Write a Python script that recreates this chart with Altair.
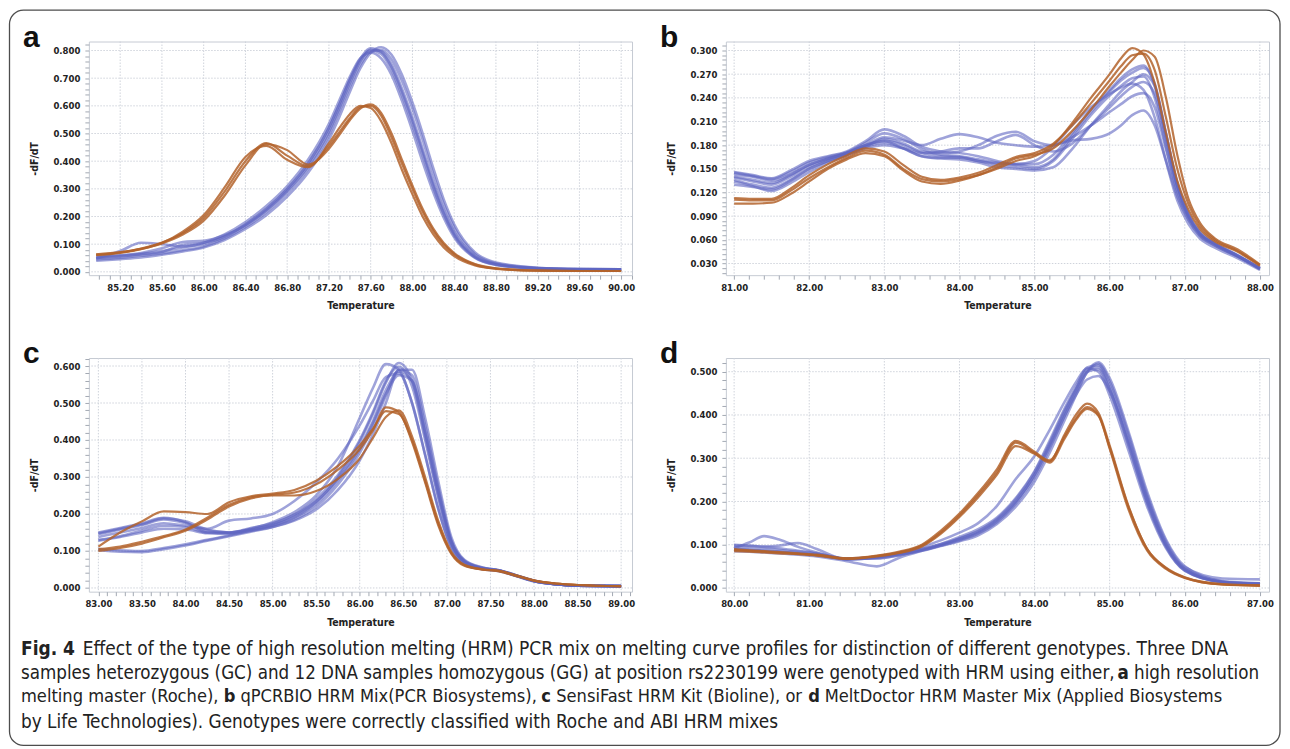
import json
import altair as alt
import pandas as pd

# ---------------- data ----------------
# Panel a : Roche high resolution melting master
A_T = [84.97, 85.2, 85.4, 85.6, 85.8, 86.0, 86.2, 86.4, 86.6, 86.8, 87.0, 87.2, 87.3, 87.4, 87.5,
       87.6, 87.7, 87.8, 87.9, 88.0, 88.1, 88.2, 88.3, 88.4, 88.6, 88.8, 89.2, 89.6, 90.0]
A_GC = [
    [0.062, 0.070, 0.084, 0.106, 0.140, 0.195, 0.290, 0.400, 0.465, 0.420, 0.382, 0.455, 0.505, 0.555, 0.595,
     0.600, 0.565, 0.485, 0.390, 0.300, 0.215, 0.148, 0.098, 0.064, 0.026, 0.012, 0.004, 0.003, 0.003],
    [0.060, 0.068, 0.082, 0.104, 0.145, 0.205, 0.305, 0.415, 0.455, 0.405, 0.378, 0.465, 0.520, 0.570, 0.600,
     0.592, 0.545, 0.465, 0.368, 0.280, 0.198, 0.135, 0.088, 0.057, 0.023, 0.011, 0.004, 0.003, 0.003],
    [0.063, 0.071, 0.083, 0.103, 0.135, 0.185, 0.275, 0.385, 0.462, 0.440, 0.388, 0.445, 0.495, 0.548, 0.590,
     0.605, 0.575, 0.500, 0.405, 0.312, 0.226, 0.156, 0.104, 0.068, 0.028, 0.013, 0.005, 0.003, 0.003],
]
A_GG = [
    [0.048, 0.075, 0.105, 0.100, 0.092, 0.100, 0.128, 0.172, 0.228, 0.300, 0.392, 0.520, 0.605, 0.695, 0.770,
     0.808, 0.795, 0.740, 0.650, 0.545, 0.430, 0.315, 0.215, 0.138, 0.054, 0.027, 0.012, 0.009, 0.009],
    [0.055, 0.060, 0.068, 0.085, 0.108, 0.112, 0.132, 0.168, 0.222, 0.292, 0.380, 0.505, 0.590, 0.680, 0.760,
     0.803, 0.797, 0.750, 0.662, 0.558, 0.442, 0.325, 0.224, 0.144, 0.057, 0.028, 0.013, 0.010, 0.009],
    [0.045, 0.050, 0.058, 0.066, 0.078, 0.092, 0.120, 0.162, 0.215, 0.285, 0.372, 0.495, 0.580, 0.668, 0.748,
     0.795, 0.802, 0.768, 0.690, 0.590, 0.475, 0.352, 0.245, 0.160, 0.064, 0.031, 0.014, 0.010, 0.009],
    [0.052, 0.058, 0.065, 0.075, 0.088, 0.105, 0.135, 0.180, 0.238, 0.310, 0.405, 0.535, 0.620, 0.705, 0.772,
     0.792, 0.772, 0.712, 0.618, 0.510, 0.395, 0.288, 0.196, 0.125, 0.050, 0.025, 0.012, 0.009, 0.009],
    [0.040, 0.046, 0.052, 0.062, 0.074, 0.088, 0.115, 0.155, 0.205, 0.272, 0.358, 0.478, 0.560, 0.650, 0.735,
     0.792, 0.812, 0.785, 0.712, 0.612, 0.498, 0.375, 0.262, 0.172, 0.070, 0.034, 0.015, 0.010, 0.009],
    [0.050, 0.056, 0.063, 0.072, 0.098, 0.105, 0.126, 0.170, 0.226, 0.298, 0.390, 0.520, 0.605, 0.692, 0.765,
     0.800, 0.788, 0.730, 0.638, 0.532, 0.418, 0.305, 0.208, 0.132, 0.052, 0.026, 0.012, 0.009, 0.009],
]

# Panel b : qPCRBIO HRM Mix
B_T = [81.0, 81.25, 81.5, 81.75, 82.0, 82.25, 82.5, 82.75, 83.0, 83.25, 83.5, 83.75, 84.0, 84.25, 84.5, 84.75,
       85.0, 85.25, 85.5, 85.75, 86.0, 86.15, 86.3, 86.45, 86.6, 86.75, 86.9, 87.05, 87.2, 87.4, 87.7, 88.0]
B_GC = [
    [0.111, 0.110, 0.110, 0.122, 0.138, 0.152, 0.164, 0.173, 0.168, 0.150, 0.137, 0.134, 0.137, 0.142, 0.150, 0.160,
     0.166, 0.180, 0.208, 0.240, 0.270, 0.290, 0.303, 0.295, 0.258, 0.195, 0.135, 0.098, 0.074, 0.058, 0.045, 0.027],
    [0.113, 0.112, 0.112, 0.125, 0.142, 0.156, 0.167, 0.176, 0.172, 0.155, 0.140, 0.136, 0.139, 0.145, 0.155, 0.165,
     0.170, 0.182, 0.205, 0.233, 0.262, 0.280, 0.294, 0.296, 0.275, 0.215, 0.150, 0.105, 0.078, 0.060, 0.046, 0.028],
    [0.106, 0.106, 0.107, 0.118, 0.134, 0.150, 0.162, 0.170, 0.166, 0.148, 0.134, 0.131, 0.135, 0.142, 0.152, 0.163,
     0.168, 0.176, 0.198, 0.225, 0.255, 0.272, 0.288, 0.300, 0.292, 0.240, 0.168, 0.112, 0.082, 0.062, 0.048, 0.029],
]
B_GG = [
    [0.146, 0.142, 0.138, 0.148, 0.160, 0.166, 0.172, 0.185, 0.200, 0.192, 0.178, 0.172, 0.170, 0.166, 0.160, 0.156,
     0.156, 0.168, 0.195, 0.225, 0.250, 0.265, 0.276, 0.281, 0.255, 0.190, 0.128, 0.090, 0.068, 0.055, 0.040, 0.024],
    [0.140, 0.136, 0.132, 0.142, 0.155, 0.163, 0.170, 0.180, 0.190, 0.186, 0.180, 0.188, 0.194, 0.190, 0.183, 0.180,
     0.178, 0.180, 0.186, 0.188, 0.195, 0.205, 0.218, 0.224, 0.205, 0.160, 0.115, 0.085, 0.066, 0.053, 0.039, 0.023],
    [0.136, 0.130, 0.126, 0.136, 0.150, 0.160, 0.168, 0.178, 0.188, 0.182, 0.172, 0.170, 0.172, 0.180, 0.192, 0.197,
     0.185, 0.180, 0.190, 0.205, 0.222, 0.232, 0.242, 0.246, 0.228, 0.175, 0.122, 0.088, 0.067, 0.054, 0.040, 0.024],
    [0.143, 0.140, 0.135, 0.143, 0.155, 0.163, 0.170, 0.180, 0.186, 0.180, 0.170, 0.166, 0.165, 0.160, 0.155, 0.152,
     0.150, 0.160, 0.188, 0.218, 0.243, 0.255, 0.265, 0.267, 0.240, 0.178, 0.120, 0.086, 0.065, 0.053, 0.039, 0.023],
    [0.130, 0.127, 0.124, 0.135, 0.150, 0.160, 0.168, 0.178, 0.183, 0.176, 0.166, 0.163, 0.162, 0.158, 0.152, 0.150,
     0.148, 0.152, 0.175, 0.205, 0.232, 0.248, 0.260, 0.270, 0.255, 0.195, 0.132, 0.093, 0.070, 0.056, 0.041, 0.024],
    [0.145, 0.141, 0.137, 0.146, 0.158, 0.165, 0.171, 0.183, 0.195, 0.188, 0.175, 0.168, 0.166, 0.162, 0.158, 0.155,
     0.152, 0.162, 0.192, 0.222, 0.248, 0.262, 0.272, 0.278, 0.258, 0.195, 0.132, 0.092, 0.069, 0.055, 0.040, 0.024],
    [0.139, 0.134, 0.130, 0.140, 0.153, 0.162, 0.170, 0.180, 0.185, 0.176, 0.166, 0.164, 0.164, 0.160, 0.157, 0.156,
     0.160, 0.178, 0.205, 0.228, 0.245, 0.253, 0.258, 0.250, 0.215, 0.160, 0.110, 0.080, 0.062, 0.050, 0.037, 0.022],
    [0.134, 0.128, 0.122, 0.132, 0.146, 0.158, 0.167, 0.176, 0.180, 0.176, 0.170, 0.172, 0.176, 0.176, 0.185, 0.193,
     0.180, 0.172, 0.182, 0.205, 0.228, 0.242, 0.254, 0.260, 0.245, 0.188, 0.128, 0.090, 0.068, 0.055, 0.040, 0.024],
]

# Panel c : SensiFast HRM Kit
C_T = [83.0, 83.25, 83.5, 83.75, 84.0, 84.25, 84.5, 84.75, 85.0, 85.25, 85.5, 85.75, 86.0, 86.15,
       86.3, 86.45, 86.6, 86.75, 86.9, 87.05, 87.2, 87.4, 87.6, 87.8, 88.0, 88.25, 88.5, 89.0]
C_GC = [
    [0.112, 0.150, 0.180, 0.207, 0.205, 0.200, 0.232, 0.248, 0.255, 0.265, 0.290, 0.330, 0.385, 0.430,
     0.478, 0.470, 0.400, 0.290, 0.175, 0.095, 0.062, 0.050, 0.046, 0.033, 0.020, 0.012, 0.008, 0.005],
    [0.105, 0.112, 0.125, 0.140, 0.158, 0.190, 0.225, 0.245, 0.252, 0.258, 0.280, 0.320, 0.375, 0.425,
     0.488, 0.475, 0.395, 0.285, 0.170, 0.093, 0.060, 0.050, 0.045, 0.032, 0.020, 0.012, 0.008, 0.005],
    [0.100, 0.108, 0.120, 0.137, 0.155, 0.185, 0.220, 0.242, 0.250, 0.250, 0.262, 0.295, 0.350, 0.405,
     0.462, 0.480, 0.410, 0.300, 0.182, 0.098, 0.063, 0.051, 0.046, 0.034, 0.021, 0.012, 0.008, 0.005],
]
C_GG = [
    [0.150, 0.162, 0.175, 0.190, 0.178, 0.150, 0.148, 0.160, 0.178, 0.205, 0.250, 0.330, 0.460, 0.540,
     0.605, 0.590, 0.500, 0.360, 0.215, 0.110, 0.066, 0.051, 0.046, 0.032, 0.018, 0.010, 0.006, 0.005],
    [0.145, 0.158, 0.170, 0.185, 0.175, 0.155, 0.150, 0.158, 0.172, 0.198, 0.240, 0.305, 0.400, 0.475,
     0.560, 0.598, 0.545, 0.400, 0.245, 0.120, 0.070, 0.053, 0.047, 0.033, 0.019, 0.010, 0.006, 0.005],
    [0.130, 0.140, 0.155, 0.168, 0.165, 0.150, 0.150, 0.162, 0.175, 0.198, 0.235, 0.295, 0.380, 0.450,
     0.535, 0.585, 0.560, 0.420, 0.260, 0.125, 0.072, 0.054, 0.047, 0.033, 0.019, 0.010, 0.006, 0.005],
    [0.102, 0.098, 0.097, 0.105, 0.115, 0.128, 0.140, 0.152, 0.165, 0.185, 0.220, 0.280, 0.365, 0.435,
     0.520, 0.590, 0.575, 0.440, 0.275, 0.130, 0.074, 0.055, 0.048, 0.034, 0.019, 0.010, 0.006, 0.005],
    [0.105, 0.102, 0.100, 0.108, 0.118, 0.130, 0.142, 0.155, 0.168, 0.190, 0.228, 0.290, 0.375, 0.445,
     0.525, 0.575, 0.560, 0.425, 0.265, 0.128, 0.073, 0.054, 0.047, 0.033, 0.019, 0.010, 0.006, 0.005],
    [0.138, 0.150, 0.162, 0.175, 0.168, 0.160, 0.182, 0.188, 0.200, 0.235, 0.285, 0.350, 0.440, 0.505,
     0.570, 0.580, 0.500, 0.360, 0.215, 0.110, 0.066, 0.051, 0.045, 0.032, 0.018, 0.010, 0.006, 0.005],
    [0.128, 0.138, 0.150, 0.160, 0.158, 0.148, 0.146, 0.155, 0.165, 0.182, 0.212, 0.265, 0.345, 0.415,
     0.500, 0.590, 0.590, 0.460, 0.290, 0.138, 0.076, 0.056, 0.048, 0.034, 0.020, 0.010, 0.006, 0.005],
    [0.148, 0.160, 0.172, 0.188, 0.180, 0.158, 0.150, 0.158, 0.170, 0.192, 0.232, 0.300, 0.395, 0.470,
     0.555, 0.608, 0.560, 0.410, 0.250, 0.122, 0.070, 0.053, 0.047, 0.033, 0.019, 0.010, 0.006, 0.005],
]

# Panel d : MeltDoctor HRM Master Mix
D_T = [80.0, 80.2, 80.4, 80.6, 80.85, 81.1, 81.5, 81.9, 82.2, 82.5, 82.75, 83.0, 83.25, 83.5,
       83.75, 84.0, 84.2, 84.4, 84.55, 84.7, 84.85, 85.0, 85.25, 85.5, 85.75, 86.0, 86.5, 87.0]
D_GC = [
    [0.088, 0.086, 0.084, 0.082, 0.079, 0.076, 0.068, 0.074, 0.082, 0.098, 0.128, 0.168, 0.215, 0.268,
     0.336, 0.312, 0.293, 0.355, 0.400, 0.426, 0.405, 0.330, 0.190, 0.090, 0.046, 0.024, 0.008, 0.005],
    [0.090, 0.087, 0.085, 0.083, 0.080, 0.077, 0.069, 0.075, 0.084, 0.100, 0.132, 0.172, 0.220, 0.275,
     0.340, 0.315, 0.295, 0.350, 0.392, 0.418, 0.400, 0.322, 0.182, 0.086, 0.044, 0.023, 0.008, 0.006],
    [0.085, 0.084, 0.082, 0.080, 0.078, 0.075, 0.067, 0.073, 0.081, 0.096, 0.125, 0.164, 0.210, 0.262,
     0.328, 0.310, 0.290, 0.345, 0.388, 0.414, 0.398, 0.325, 0.188, 0.090, 0.047, 0.025, 0.009, 0.006],
]
D_GG = [
    [0.092, 0.105, 0.120, 0.112, 0.095, 0.082, 0.068, 0.072, 0.078, 0.088, 0.100, 0.115, 0.132, 0.160,
     0.205, 0.268, 0.335, 0.410, 0.460, 0.505, 0.510, 0.462, 0.335, 0.200, 0.098, 0.042, 0.014, 0.010],
    [0.098, 0.097, 0.096, 0.098, 0.104, 0.090, 0.066, 0.070, 0.078, 0.090, 0.102, 0.118, 0.136, 0.163,
     0.208, 0.270, 0.340, 0.415, 0.465, 0.510, 0.515, 0.470, 0.345, 0.208, 0.102, 0.044, 0.015, 0.010],
    [0.085, 0.084, 0.082, 0.080, 0.077, 0.073, 0.062, 0.050, 0.070, 0.086, 0.098, 0.112, 0.128, 0.155,
     0.198, 0.262, 0.330, 0.405, 0.458, 0.500, 0.505, 0.458, 0.330, 0.195, 0.095, 0.040, 0.013, 0.008],
    [0.090, 0.088, 0.086, 0.084, 0.080, 0.076, 0.066, 0.072, 0.082, 0.095, 0.110, 0.128, 0.150, 0.190,
     0.252, 0.305, 0.365, 0.430, 0.475, 0.508, 0.500, 0.445, 0.318, 0.188, 0.092, 0.040, 0.014, 0.010],
    [0.100, 0.098, 0.095, 0.092, 0.086, 0.080, 0.067, 0.068, 0.076, 0.087, 0.098, 0.110, 0.126, 0.152,
     0.195, 0.255, 0.322, 0.398, 0.452, 0.498, 0.518, 0.478, 0.355, 0.215, 0.108, 0.048, 0.022, 0.020],
    [0.088, 0.087, 0.085, 0.083, 0.080, 0.077, 0.067, 0.071, 0.079, 0.090, 0.101, 0.114, 0.130, 0.157,
     0.200, 0.260, 0.326, 0.398, 0.446, 0.482, 0.490, 0.455, 0.338, 0.205, 0.100, 0.043, 0.014, 0.009],
    [0.094, 0.092, 0.090, 0.088, 0.084, 0.079, 0.068, 0.069, 0.076, 0.086, 0.097, 0.108, 0.122, 0.148,
     0.188, 0.246, 0.312, 0.388, 0.445, 0.500, 0.522, 0.485, 0.362, 0.222, 0.112, 0.050, 0.016, 0.011],
]

# tick labels
A_XTICKS = [85.2, 85.6, 86.0, 86.4, 86.8, 87.2, 87.6, 88.0, 88.4, 88.8, 89.2, 89.6, 90.0]
A_YTICKS = [0.0, 0.1, 0.2, 0.3, 0.4, 0.5, 0.6, 0.7, 0.8]
B_XTICKS = [81.0, 82.0, 83.0, 84.0, 85.0, 86.0, 87.0, 88.0]
B_YTICKS = [0.03, 0.06, 0.09, 0.12, 0.15, 0.18, 0.21, 0.24, 0.27, 0.30]
C_XTICKS = [83.0, 83.5, 84.0, 84.5, 85.0, 85.5, 86.0, 86.5, 87.0, 87.5, 88.0, 88.5, 89.0]
C_YTICKS = [0.0, 0.1, 0.2, 0.3, 0.4, 0.5, 0.6]
D_XTICKS = [80.0, 81.0, 82.0, 83.0, 84.0, 85.0, 86.0, 87.0]
D_YTICKS = [0.0, 0.1, 0.2, 0.3, 0.4, 0.5]

# caption: (line centre y, left x, right x, [(segment, bold)])
CAPTION = [
    (648, 20, 1228, [("Fig. 4", True),
                     ("Effect of the type of high resolution melting (HRM) PCR mix on melting curve profiles "
                      "for distinction of different genotypes. Three DNA", False)]),
    (672.5, 20, 1260, [("samples heterozygous (GC) and 12 DNA samples homozygous (GG) at position rs2230199 "
                        "were genotyped with HRM using either,", False), ("a", True), ("high resolution", False)]),
    (697, 20, 1222, [("melting master (Roche),", False), ("b", True), ("qPCRBIO HRM Mix(PCR Biosystems),", False),
                     ("c", True), ("SensiFast HRM Kit (Bioline), or", False), ("d", True),
                     ("MeltDoctor HRM Master Mix (Applied Biosystems", False)]),
    (721.5, 20, 782, [("by Life Technologies). Genotypes were correctly classified with Roche and ABI HRM mixes",
                       False)]),
]

# ---------------- styling ----------------
BLUE = "#5f66c2"
ORANGE = "#b3632b"
GRID = "#cfd3db"
BORDER = "#c6cbd3"
TXT = "#222222"
TICKFONT = "DejaVu Sans Condensed, DejaVu Sans, sans-serif"
CAPFONT = "DejaVu Sans Condensed, DejaVu Sans, sans-serif"
W, H = 544, 234
PX0, PY0 = 88, 357   # page position of panel c's plot origin (caption layers live there)

# relative glyph advances (DejaVu Sans, units of 1/2048 em) used only to lay out caption segments
ADV = {' ': 651, '(': 799, ')': 799, ',': 651, '.': 651, '-': 739,
       'a': 1255, 'b': 1300, 'c': 1126, 'd': 1300, 'e': 1260, 'f': 721, 'g': 1300, 'h': 1298, 'i': 569,
       'j': 569, 'k': 1186, 'l': 569, 'm': 1995, 'n': 1298, 'o': 1253, 'p': 1300, 'q': 1300, 'r': 842,
       's': 1067, 't': 803, 'u': 1298, 'v': 1212, 'w': 1675, 'x': 1212, 'y': 1212, 'z': 1075,
       'A': 1401, 'B': 1405, 'C': 1430, 'D': 1577, 'E': 1294, 'F': 1178, 'G': 1587, 'H': 1540, 'I': 604,
       'K': 1343, 'L': 1141, 'M': 1767, 'N': 1532, 'O': 1612, 'P': 1235, 'R': 1423, 'S': 1300, 'T': 1251}


def em(text, bold=False):
    w = sum(ADV.get(ch, 1303) for ch in text) / 2048.0
    return w * (1.1 if bold else 1.0)


# measured: line-1 body text rendered 1122 px wide at 18.6 px  -> real em width of that text
K = (1122 / 18.6) / em(CAPTION[0][3][1][0])


def caption_rows():
    rows = []
    for y, x0, x1, segs in CAPTION:
        gaps = [1.9 if (i == 0 and segs[0][0] == "Fig. 4") else 1.0 for i in range(len(segs) - 1)]
        total = sum(K * em(t, b) for t, b in segs) + sum(g * K * em(" ") for g in gaps)
        size = min((x1 - x0) / total, 19.5)
        x = x0
        for i, (t, b) in enumerate(segs):
            rows.append({"t": t, "px": x - PX0, "py": y - PY0, "sz": size, "b": b})
            x += size * K * em(t, b)
            if i < len(gaps):
                x += size * gaps[i] * K * em(" ")
    return rows


def minor(lo, hi, step):
    n = int(round((hi - lo) / step))
    return [round(lo + i * step, 4) for i in range(n + 1)]


def label_expr(majors, fmt):
    return ("indexof(%s, round(datum.value*1000)/1000) >= 0 ? format(datum.value, '%s') : ''"
            % (json.dumps(majors), fmt))


def panel(letter, T, gc, gg, xdom, ydom, xmaj, xmin, ymaj, ymin, xfmt, yfmt, extra=None):
    rows_gg, rows_gc = [], []
    for i, c in enumerate(gg):
        for t, v in zip(T, c):
            rows_gg.append({"T": t, "v": v, "s": "GG%d" % i})
    for i, c in enumerate(gc):
        for t, v in zip(T, c):
            rows_gc.append({"T": t, "v": v, "s": "GC%d" % i})
    xs = alt.Scale(domain=xdom, nice=False, zero=False)
    ys = alt.Scale(domain=ydom, nice=False, zero=False)
    common = dict(domain=False, grid=False, tickSize=4, tickColor="#a3a9b3", tickWidth=1,
                  labelFont=TICKFONT, labelFontSize=9.5, labelFontWeight="bold", labelColor=TXT,
                  labelOverlap=False, labelFlush=False, titleFont=TICKFONT, titleFontSize=10.5,
                  titleFontWeight="bold", titleColor=TXT)
    xaxis = alt.Axis(values=xmin, labelExpr=label_expr(xmaj, xfmt), title="Temperature",
                     labelPadding=3, titlePadding=9, **common)
    yaxis = alt.Axis(values=ymin, labelExpr=label_expr(ymaj, yfmt), title="-dF/dT",
                     labelPadding=5, titlePadding=13, **common)
    vgrid = alt.Chart(pd.DataFrame({"T": xmaj})).mark_rule(
        color=GRID, strokeDash=[1.5, 1.5], strokeWidth=1).encode(x=alt.X("T:Q", scale=xs, axis=xaxis))
    hgrid = alt.Chart(pd.DataFrame({"v": ymaj})).mark_rule(
        color=GRID, strokeDash=[1.5, 1.5], strokeWidth=1).encode(y=alt.Y("v:Q", scale=ys, axis=yaxis))
    lines_gg = alt.Chart(pd.DataFrame(rows_gg)).mark_line(
        color=BLUE, strokeWidth=2.6, opacity=0.6, interpolate="monotone", clip=True).encode(
        x=alt.X("T:Q", scale=xs, axis=xaxis), y=alt.Y("v:Q", scale=ys, axis=yaxis), detail="s:N")
    lines_gc = alt.Chart(pd.DataFrame(rows_gc)).mark_line(
        color=ORANGE, strokeWidth=2.2, opacity=0.85, interpolate="monotone", clip=True).encode(
        x=alt.X("T:Q", scale=xs, axis=xaxis), y=alt.Y("v:Q", scale=ys, axis=yaxis), detail="s:N")
    lab = alt.Chart(pd.DataFrame({"t": [letter]})).mark_text(
        align="left", baseline="alphabetic", fontSize=30, fontWeight="bold",
        font="Liberation Sans, Arial, sans-serif", color="#111111").encode(
        text="t:N", x=alt.value(-66), y=alt.value(5))
    layers = [vgrid, hgrid, lines_gg, lines_gc, lab]
    if extra:
        layers += extra
    return alt.layer(*layers).properties(
        width=W, height=H, view=alt.ViewBackground(stroke=BORDER, strokeWidth=1))


# caption + outer frame (drawn as layers of panel c, positioned in pixels)
frame = alt.Chart(pd.DataFrame({"k": [0]})).mark_rect(
    fillOpacity=0, stroke="#4d4d4d", strokeWidth=1.3, cornerRadius=14).encode(
    x=alt.value(8.5 - PX0), x2=alt.value(1281 - PX0), y=alt.value(8.5 - PY0), y2=alt.value(745 - PY0))
cap_df = pd.DataFrame(caption_rows())
cap_enc = dict(text="t:N", x=alt.X("px:Q", scale=None, axis=None), y=alt.Y("py:Q", scale=None, axis=None),
               size=alt.Size("sz:Q", scale=None, legend=None))
cap_reg = alt.Chart(cap_df[~cap_df["b"]]).mark_text(
    align="left", baseline="middle", font=CAPFONT, color=TXT).encode(**cap_enc)
cap_bold = alt.Chart(cap_df[cap_df["b"]]).mark_text(
    align="left", baseline="middle", fontWeight="bold", font=CAPFONT, color=TXT).encode(**cap_enc)

pa = panel("a", A_T, A_GC, A_GG, [84.90, 90.104], [-0.012, 0.8325], A_XTICKS, minor(85.0, 90.1, 0.1),
           A_YTICKS, minor(0.0, 0.82, 0.02), ".2f", ".3f")
pb = panel("b", B_T, B_GC, B_GG, [80.89, 88.122], [0.0152, 0.3114], B_XTICKS, minor(81.0, 88.0, 0.2),
           B_YTICKS, minor(0.018, 0.306, 0.006), ".2f", ".3f")
pc = panel("c", C_T, C_GC, C_GG, [82.891, 89.125], [-0.010, 0.6216], C_XTICKS, minor(83.0, 89.1, 0.1),
           C_YTICKS, minor(0.0, 0.62, 0.02), ".2f", ".3f", extra=[frame, cap_reg, cap_bold])
pd_ = panel("d", D_T, D_GC, D_GG, [79.89, 87.122], [-0.0085, 0.5316], D_XTICKS, minor(80.0, 87.0, 0.2),
            D_YTICKS, minor(0.0, 0.52, 0.02), ".2f", ".3f")

chart = alt.concat(pa, pb, pc, pd_, columns=2, spacing=alt.RowColnumber(row=83, column=94),
                   bounds="flush").properties(padding=0).configure(background="white").configure_view(
    stroke="transparent")

chart.save("out.html", embed_options={"renderer": "svg", "actions": False})
